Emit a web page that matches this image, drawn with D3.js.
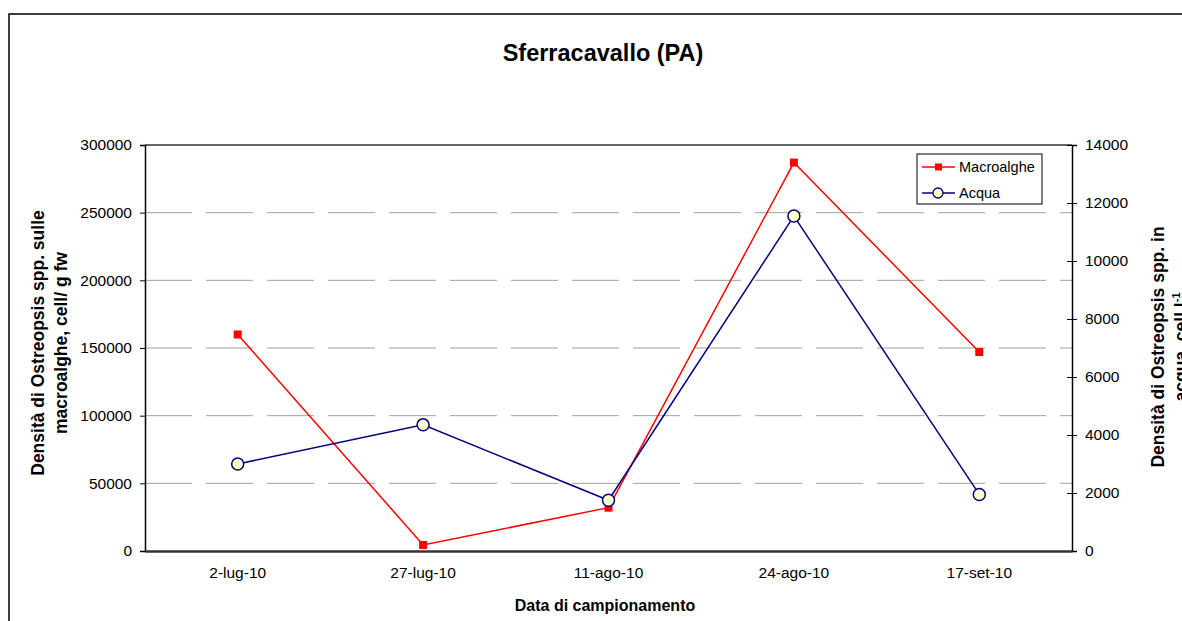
<!DOCTYPE html>
<html>
<head>
<meta charset="utf-8">
<script src="https://cdn.jsdelivr.net/npm/d3@7"></script>
<style>
  body { margin: 0; background: #fff; }
  text { font-family: Arial, "Liberation Sans", sans-serif; }
</style>
</head>
<body>
<script>
// Chart data
const dates = ["2-lug-10", "27-lug-10", "11-ago-10", "24-ago-10", "17-set-10"];
const macroalghe = [160000, 4500, 32000, 287000, 147000];
const acqua = [3000, 4350, 1750, 11550, 1950];
const leftTicks = [0, 50000, 100000, 150000, 200000, 250000, 300000];
const rightTicks = [0, 2000, 4000, 6000, 8000, 10000, 12000, 14000];

const width = 1182, height = 621;
const margin = { left: 145, right: 110, top: 145, bottom: 70 };
const plotW = width - margin.left - margin.right;
const plotH = height - margin.top - margin.bottom;

const svg = d3.select("body").append("svg")
    .attr("width", width)
    .attr("height", height);

// outer chart frame
svg.append("rect")
    .attr("x", 9).attr("y", 14)
    .attr("width", 1200).attr("height", 700)
    .attr("fill", "none")
    .attr("stroke", "#000")
    .attr("stroke-width", 1.5);

const g = svg.append("g")
    .attr("transform", "translate(" + margin.left + "," + margin.top + ")");

const x = d3.scaleBand().domain(dates).range([0, plotW]);
const yL = d3.scaleLinear().domain([0, 300000]).range([plotH, 0]);
const yR = d3.scaleLinear().domain([0, 14000]).range([plotH, 0]);

// dashed gridlines
g.selectAll(".grid")
    .data(leftTicks.filter(function(d) { return d > 0 && d < 300000; }))
    .enter().append("line")
    .attr("class", "grid")
    .attr("x1", 0).attr("x2", plotW)
    .attr("y1", function(d) { return yL(d); })
    .attr("y2", function(d) { return yL(d); })
    .attr("stroke", "#a0a0a0")
    .attr("stroke-width", 1)
    .attr("stroke-dasharray", "47,14");

// top border of plot area
g.append("line")
    .attr("x1", 0).attr("x2", plotW)
    .attr("y1", 0).attr("y2", 0)
    .attr("stroke", "#333").attr("stroke-width", 1.5);

// left axis
const leftAxis = g.append("g")
    .call(d3.axisLeft(yL).tickValues(leftTicks).tickFormat(d3.format("d")).tickSize(5).tickPadding(8));
// right axis (cross ticks)
const rightAxis = g.append("g")
    .attr("transform", "translate(" + plotW + ",0)")
    .call(d3.axisRight(yR).tickValues(rightTicks).tickFormat(d3.format("d")).tickSize(5).tickPadding(8));
rightAxis.selectAll(".tick line").attr("x1", -5);
// bottom axis
const bottomAxis = g.append("g")
    .attr("transform", "translate(0," + plotH + ")")
    .call(d3.axisBottom(x).tickSize(0).tickPadding(16));

[leftAxis, rightAxis, bottomAxis].forEach(function(a) {
    a.selectAll(".domain").attr("stroke", "#000").attr("stroke-width", 1.5);
    a.selectAll(".tick line").attr("stroke", "#000");
    a.selectAll("text").attr("font-size", 15.5).attr("fill", "#000")
        .style("font-family", "Arial, 'Liberation Sans', sans-serif");
});
bottomAxis.select(".domain").attr("stroke", "#333").attr("stroke-width", 2.5);

const cx = function(d, i) { return x(dates[i]) + x.bandwidth() / 2; };

// Macroalghe line (left axis)
g.append("path")
    .datum(macroalghe)
    .attr("fill", "none")
    .attr("stroke", "#ff0000")
    .attr("stroke-width", 1.5)
    .attr("d", d3.line().x(cx).y(function(d) { return yL(d); }));
g.selectAll(".sq")
    .data(macroalghe)
    .enter().append("rect")
    .attr("class", "sq")
    .attr("x", function(d, i) { return cx(d, i) - 4; })
    .attr("y", function(d) { return yL(d) - 4; })
    .attr("width", 8).attr("height", 8)
    .attr("fill", "#ff0000");

// Acqua line (right axis)
g.append("path")
    .datum(acqua)
    .attr("fill", "none")
    .attr("stroke", "#000080")
    .attr("stroke-width", 1.5)
    .attr("d", d3.line().x(cx).y(function(d) { return yR(d); }));
g.selectAll(".circ")
    .data(acqua)
    .enter().append("circle")
    .attr("class", "circ")
    .attr("cx", cx)
    .attr("cy", function(d) { return yR(d); })
    .attr("r", 6)
    .attr("fill", "#ffffcc")
    .attr("stroke", "#000080")
    .attr("stroke-width", 1.5);

// Legend
const lg = svg.append("g").attr("transform", "translate(917,154)");
lg.append("rect")
    .attr("width", 125).attr("height", 50)
    .attr("fill", "#fff").attr("stroke", "#000").attr("stroke-width", 1);
lg.append("line").attr("x1", 5).attr("x2", 38).attr("y1", 13).attr("y2", 13)
    .attr("stroke", "#ff0000").attr("stroke-width", 1.5);
lg.append("rect").attr("x", 18).attr("y", 9.5).attr("width", 7).attr("height", 7).attr("fill", "#ff0000");
lg.append("text").attr("x", 42).attr("y", 18).attr("font-size", 14.5).text("Macroalghe");
lg.append("line").attr("x1", 5).attr("x2", 38).attr("y1", 39).attr("y2", 39)
    .attr("stroke", "#000080").attr("stroke-width", 1.5);
lg.append("circle").attr("cx", 21).attr("cy", 39).attr("r", 5)
    .attr("fill", "#ffffcc").attr("stroke", "#000080").attr("stroke-width", 1.3);
lg.append("text").attr("x", 42).attr("y", 44).attr("font-size", 14.5).text("Acqua");

// Title
svg.append("text")
    .attr("x", 603).attr("y", 61)
    .attr("text-anchor", "middle")
    .attr("font-size", 23.5).attr("font-weight", "bold")
    .text("Sferracavallo (PA)");

// X axis title
svg.append("text")
    .attr("x", 605).attr("y", 611)
    .attr("text-anchor", "middle")
    .attr("font-size", 16).attr("font-weight", "bold")
    .text("Data di campionamento");

// Left axis title
const lt = svg.append("text")
    .attr("transform", "translate(44,343) rotate(-90)")
    .attr("text-anchor", "middle")
    .attr("font-size", 17.5).attr("font-weight", "bold");
lt.append("tspan").attr("x", 0).attr("dy", 0).text("Densità di Ostreopsis spp. sulle");
lt.append("tspan").attr("x", 0).attr("dy", 23).text("macroalghe, cell/ g fw");

// Right axis title (second line runs off the edge as in the original)
const rt = svg.append("text")
    .attr("transform", "translate(1164,347) rotate(-90)")
    .attr("text-anchor", "middle")
    .attr("font-size", 17.5).attr("font-weight", "bold");
rt.append("tspan").attr("x", 0).attr("dy", 0).text("Densità di Ostreopsis spp. in");
rt.append("tspan").attr("x", 0).attr("dy", 23).text("acqua, cell l");
rt.append("tspan").attr("dy", -7).attr("font-size", 11).text("-1");
</script>
</body>
</html>
